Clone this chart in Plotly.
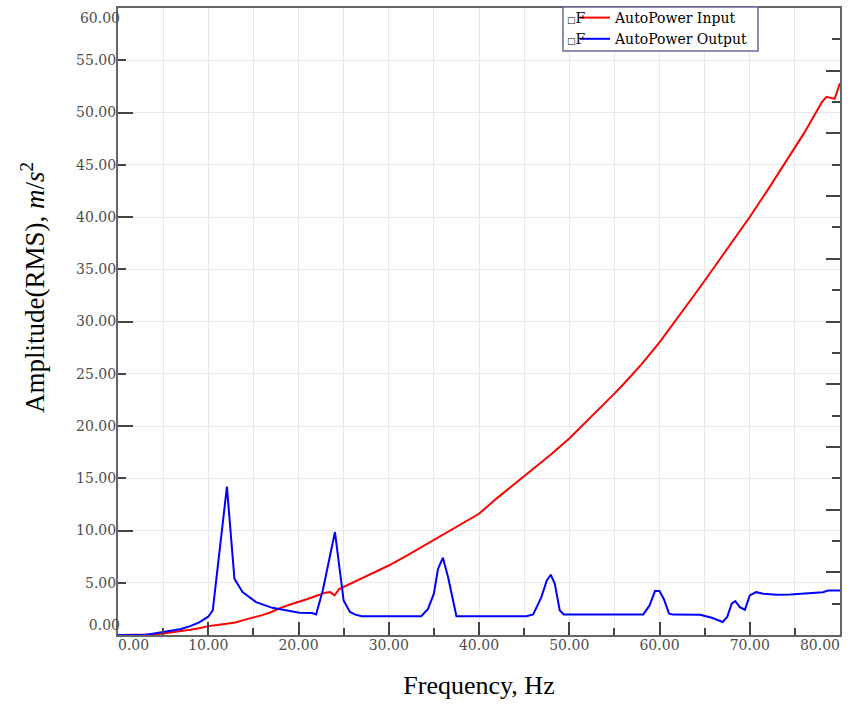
import plotly.graph_objects as go

# ---- data ----
freq_in = [0, 3, 4, 5, 6, 7, 8, 9, 10, 11, 12, 13, 14, 15, 16, 17, 18, 19, 20, 21, 22, 23,
           23.5, 24, 24.5, 25, 26, 27, 28, 29, 30, 32, 34, 36, 38, 40, 42, 44, 45, 46, 48, 50,
           52, 54, 55, 56, 58, 60, 62, 64, 65, 66, 68, 70, 72, 74, 75, 76, 77, 78, 78.5, 79.4, 80]
amp_in = [0, 0, 0.05, 0.15, 0.25, 0.35, 0.5, 0.65, 0.85, 0.95, 1.1, 1.2, 1.45, 1.65, 1.9, 2.2,
          2.6, 2.9, 3.15, 3.45, 3.75, 4.05, 4.1, 3.8, 4.4, 4.6, 5.0, 5.4, 5.8, 6.2, 6.65, 7.6,
          8.6, 9.6, 10.6, 11.6, 13.1, 14.5, 15.2, 15.9, 17.3, 18.8, 20.5, 22.2, 23.1, 24.0,
          25.9, 28.0, 30.3, 32.7, 33.9, 35.1, 37.5, 40.0, 42.6, 45.3, 46.7, 48.0, 49.5, 51.0,
          51.5, 51.3, 52.8]

freq_out = [0, 2, 3, 3.5, 4, 5, 6, 7, 8, 9, 10, 10.5, 12.07, 12.15, 12.9, 13.8, 15.3, 17.1,
            18.6, 20.1, 21.5, 21.95, 22.7, 24.04, 25.0, 25.7, 26.3, 27, 33.6, 34.35, 35.0,
            35.46, 36.0, 36.57, 37.5, 45.25, 46.0, 46.9, 47.5, 47.95, 48.4, 48.95, 49.4, 58.2,
            58.9, 59.5, 60.0, 60.5, 61.06, 61.5, 64.5, 65.8, 67.0, 67.5, 68.0, 68.4, 68.9,
            69.46, 70.0, 70.7, 71.5, 73.0, 74.5, 76.3, 78.1, 78.7, 80]
amp_out = [0, 0, 0.02, 0.08, 0.15, 0.3, 0.42, 0.58, 0.85, 1.2, 1.75, 2.35, 14.2, 13.3, 5.4,
           4.1, 3.15, 2.6, 2.35, 2.13, 2.1, 1.97, 4.3, 9.85, 3.3, 2.2, 1.95, 1.8, 1.8, 2.5,
           3.95, 6.34, 7.4, 5.55, 1.8, 1.8, 1.97, 3.6, 5.2, 5.77, 4.9, 2.35, 1.97, 1.97, 2.83,
           4.2, 4.2, 3.4, 2.04, 1.95, 1.94, 1.65, 1.24, 1.72, 3.0, 3.25, 2.67, 2.42, 3.79,
           4.1, 3.95, 3.85, 3.88, 4.0, 4.1, 4.25, 4.25]

x_tick_vals = [0, 10, 20, 30, 40, 50, 60, 70, 80]
x_tick_text = ["0.00", "10.00", "20.00", "30.00", "40.00", "50.00", "60.00", "70.00", "80.00"]
y_tick_vals = [0, 5, 10, 15, 20, 25, 30, 35, 40, 45, 50, 55, 60]
y_tick_text = ["0.00", "5.00", "10.00", "15.00", "20.00", "25.00", "30.00", "35.00",
               "40.00", "45.00", "50.00", "55.00", "60.00"]

series_names = ["AutoPower Input", "AutoPower Output"]
x_title = "Frequency, Hz"
y_title = "Amplitude(RMS), <i>m</i>/<i>s</i><sup>2</sup>"

# ---- figure ----
W, H = 853, 705
ML, MR, MT, MB = 118, 13, 8, 70
PW, PH = W - ML - MR, H - MT - MB


def px_x(p):
    return (p - ML) / PW


def px_y(p):
    return (H - MB - p) / PH


TICK_FONT = dict(family="DejaVu Serif", size=14, color="#4d4d4d")
GRID = "#e9e9e9"
AX = "#666666"
XR = [0, 80]
YR = [0, 60]

fig = go.Figure()
fig.add_trace(go.Scatter(x=freq_in, y=amp_in, mode="lines", name=series_names[0],
                         line=dict(color="#ff0000", width=2)))
fig.add_trace(go.Scatter(x=freq_out, y=amp_out, mode="lines", name=series_names[1],
                         line=dict(color="#0000ff", width=2)))
# invisible helper traces that carry the extra axes
for xa, ya in (("x", "y2"), ("x", "y3"), ("x2", "y"), ("x3", "y"), ("x", "y4"), ("x", "y5")):
    fig.add_trace(go.Scatter(x=[0], y=[0], xaxis=xa, yaxis=ya, mode="lines",
                             showlegend=False, hoverinfo="skip", line=dict(width=0)))

x_edge_axis = dict(range=XR, overlaying="x", side="bottom", tickmode="array",
                   showgrid=False, zeroline=False, showline=False, ticks="",
                   tickfont=TICK_FONT, ticklabelstandoff=0, automargin=False,
                   ticklabeloverflow="allow")
y_edge_axis = dict(range=YR, overlaying="y", side="left", tickmode="array",
                   showgrid=False, zeroline=False, showline=False, ticks="",
                   tickfont=TICK_FONT, ticklabelstandoff=-3, automargin=False,
                   ticklabeloverflow="allow")

fig.update_layout(
    width=W, height=H,
    margin=dict(l=ML, r=MR, t=MT, b=MB, autoexpand=False),
    paper_bgcolor="white", plot_bgcolor="white",
    xaxis=dict(
        range=XR, tickmode="array", tickvals=x_tick_vals[1:-1], ticktext=x_tick_text[1:-1],
        ticklabelstandoff=-4, automargin=False,
        showline=True, linecolor=AX, linewidth=2, mirror=True,
        ticks="inside", ticklen=13, tickwidth=1.5, tickcolor="#444",
        showgrid=True, gridcolor=GRID, gridwidth=1, zeroline=False,
        tickfont=TICK_FONT,
        minor=dict(dtick=5, tick0=0, ticks="inside", ticklen=7, tickwidth=1.5,
                   tickcolor="#444", showgrid=True, gridcolor=GRID, gridwidth=1),
        title=dict(text=x_title, font=dict(family="Liberation Serif", size=26, color="black"),
                   standoff=24),
    ),
    # first and last labels sit inside the axis span, as in the reference
    xaxis2=dict(x_edge_axis, tickvals=x_tick_vals[:1], ticktext=x_tick_text[:1],
                ticklabelposition="outside right"),
    xaxis3=dict(x_edge_axis, tickvals=x_tick_vals[-1:], ticktext=x_tick_text[-1:],
                ticklabelposition="outside left"),
    yaxis=dict(
        range=YR, tickmode="array", tickvals=y_tick_vals[1:-1], ticktext=y_tick_text[1:-1],
        ticklabelstandoff=-3, automargin=False,
        showline=True, linecolor=AX, linewidth=2, mirror=True,
        ticks="inside", ticklen=8, tickwidth=1.5, tickcolor="#444",
        showgrid=True, gridcolor=GRID, gridwidth=1, zeroline=False,
        tickfont=TICK_FONT,
    ),
    yaxis4=dict(y_edge_axis, tickvals=y_tick_vals[:1], ticktext=y_tick_text[:1],
                ticklabelposition="outside top"),
    yaxis5=dict(y_edge_axis, tickvals=y_tick_vals[-1:], ticktext=y_tick_text[-1:],
                ticklabelposition="outside bottom"),
    yaxis2=dict(
        range=YR, overlaying="y", side="right", dtick=6, tick0=0,
        showticklabels=False, showgrid=False, zeroline=False,
        showline=True, linecolor=AX, linewidth=2,
        ticks="inside", ticklen=14, tickwidth=1.5, tickcolor="#444",
        minor=dict(dtick=3, tick0=0, ticks="inside", ticklen=8, tickwidth=1.5, tickcolor="#444"),
    ),
    yaxis3=dict(
        range=YR, overlaying="y", side="left", dtick=10, tick0=0,
        showticklabels=False, showgrid=False, zeroline=False, showline=False,
        ticks="inside", ticklen=15, tickwidth=1.5, tickcolor="#444",
    ),
    showlegend=True,
    legend=dict(
        x=px_x(575), y=px_y(2), xanchor="left", yanchor="top",
        bgcolor="rgba(255,255,255,0)", borderwidth=0,
        font=dict(family="DejaVu Serif", size=14, color="black"),
        itemwidth=30, tracegroupgap=0,
    ),
)

# legend frame (white box with border) behind the legend entries
fig.add_shape(type="rect", xref="paper", yref="paper",
              x0=px_x(563), x1=px_x(758), y0=px_y(51), y1=px_y(7),
              line=dict(color="#6a6a9c", width=1.5), fillcolor="white", layer="above")

for yy in (18, 39):
    fig.add_annotation(x=px_x(565), y=px_y(yy), xref="paper", yref="paper",
                       text="<span style='font-size:9px'>□</span>F", showarrow=False,
                       xanchor="left", yanchor="middle",
                       font=dict(family="DejaVu Serif", size=14, color="black"))

fig.add_annotation(x=px_x(33), y=px_y(288), xref="paper", yref="paper",
                   text=y_title, textangle=-90, showarrow=False,
                   xanchor="center", yanchor="middle",
                   font=dict(family="Liberation Serif", size=27, color="black"))

fig.write_html("out.html")
